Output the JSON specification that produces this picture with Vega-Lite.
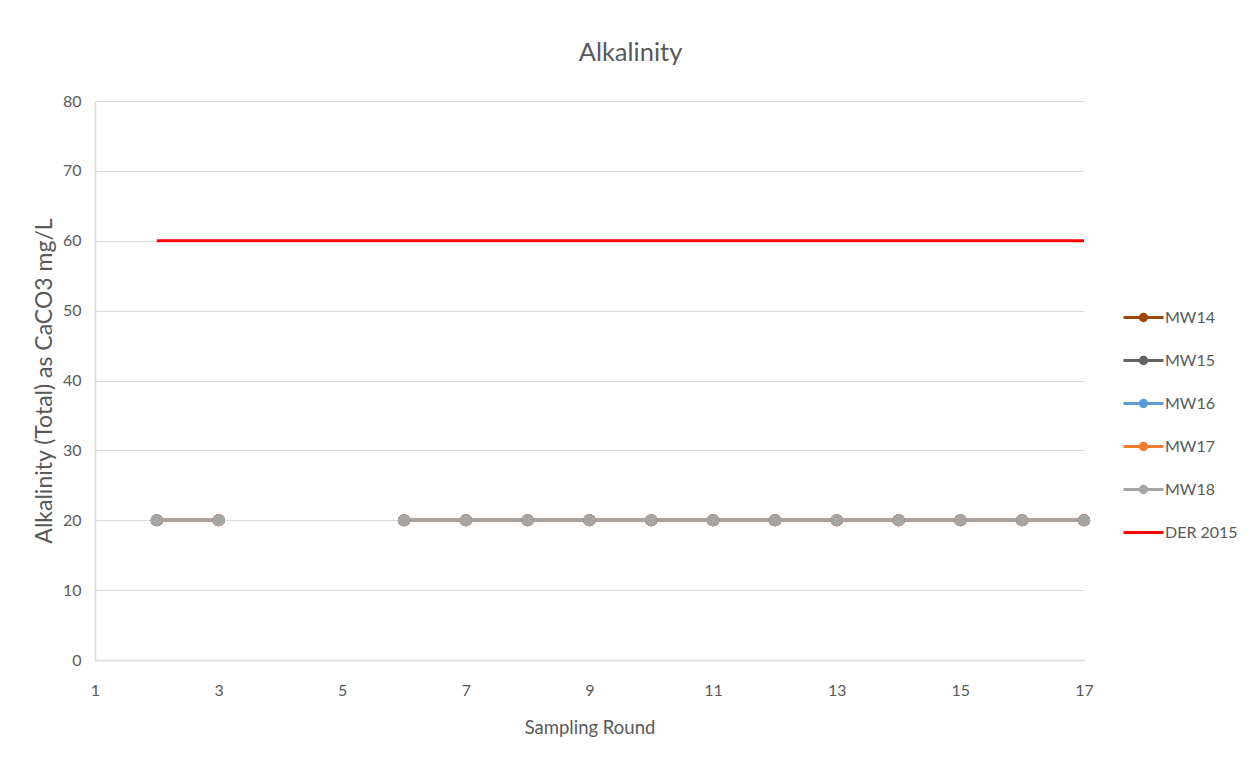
{
  "$schema": "https://vega.github.io/schema/vega-lite/v6.json",
  "width": 989,
  "height": 559,
  "autosize": {"type": "none"},
  "padding": {"left": 95, "top": 101, "right": 171, "bottom": 109},
  "background": "white",
  "title": {"text": "Alkalinity", "font": "Lato", "fontSize": 25.5, "fontWeight": "normal", "color": "#595959", "offset": 27, "dx": 41},
  "config": {
    "view": {"stroke": null},
    "font": "Lato"
  },
  "data": {
    "values": [
      {"round": 2, "series": "DER 2015", "value": 60},
      {"round": 3, "series": "DER 2015", "value": 60},
      {"round": 4, "series": "DER 2015", "value": 60},
      {"round": 5, "series": "DER 2015", "value": 60},
      {"round": 6, "series": "DER 2015", "value": 60},
      {"round": 7, "series": "DER 2015", "value": 60},
      {"round": 8, "series": "DER 2015", "value": 60},
      {"round": 9, "series": "DER 2015", "value": 60},
      {"round": 10, "series": "DER 2015", "value": 60},
      {"round": 11, "series": "DER 2015", "value": 60},
      {"round": 12, "series": "DER 2015", "value": 60},
      {"round": 13, "series": "DER 2015", "value": 60},
      {"round": 14, "series": "DER 2015", "value": 60},
      {"round": 15, "series": "DER 2015", "value": 60},
      {"round": 16, "series": "DER 2015", "value": 60},
      {"round": 17, "series": "DER 2015", "value": 60},
      {"round": 2, "series": "MW14", "value": 20},
      {"round": 3, "series": "MW14", "value": 20},
      {"round": 4, "series": "MW14", "value": null},
      {"round": 5, "series": "MW14", "value": null},
      {"round": 6, "series": "MW14", "value": 20},
      {"round": 7, "series": "MW14", "value": 20},
      {"round": 8, "series": "MW14", "value": 20},
      {"round": 9, "series": "MW14", "value": 20},
      {"round": 10, "series": "MW14", "value": 20},
      {"round": 11, "series": "MW14", "value": 20},
      {"round": 12, "series": "MW14", "value": 20},
      {"round": 13, "series": "MW14", "value": 20},
      {"round": 14, "series": "MW14", "value": 20},
      {"round": 15, "series": "MW14", "value": 20},
      {"round": 16, "series": "MW14", "value": 20},
      {"round": 17, "series": "MW14", "value": 20},
      {"round": 2, "series": "MW15", "value": 20},
      {"round": 3, "series": "MW15", "value": 20},
      {"round": 4, "series": "MW15", "value": null},
      {"round": 5, "series": "MW15", "value": null},
      {"round": 6, "series": "MW15", "value": 20},
      {"round": 7, "series": "MW15", "value": 20},
      {"round": 8, "series": "MW15", "value": 20},
      {"round": 9, "series": "MW15", "value": 20},
      {"round": 10, "series": "MW15", "value": 20},
      {"round": 11, "series": "MW15", "value": 20},
      {"round": 12, "series": "MW15", "value": 20},
      {"round": 13, "series": "MW15", "value": 20},
      {"round": 14, "series": "MW15", "value": 20},
      {"round": 15, "series": "MW15", "value": 20},
      {"round": 16, "series": "MW15", "value": 20},
      {"round": 17, "series": "MW15", "value": 20},
      {"round": 2, "series": "MW16", "value": 20},
      {"round": 3, "series": "MW16", "value": 20},
      {"round": 4, "series": "MW16", "value": null},
      {"round": 5, "series": "MW16", "value": null},
      {"round": 6, "series": "MW16", "value": 20},
      {"round": 7, "series": "MW16", "value": 20},
      {"round": 8, "series": "MW16", "value": 20},
      {"round": 9, "series": "MW16", "value": 20},
      {"round": 10, "series": "MW16", "value": 20},
      {"round": 11, "series": "MW16", "value": 20},
      {"round": 12, "series": "MW16", "value": 20},
      {"round": 13, "series": "MW16", "value": 20},
      {"round": 14, "series": "MW16", "value": 20},
      {"round": 15, "series": "MW16", "value": 20},
      {"round": 16, "series": "MW16", "value": 20},
      {"round": 17, "series": "MW16", "value": 20},
      {"round": 2, "series": "MW17", "value": 20},
      {"round": 3, "series": "MW17", "value": 20},
      {"round": 4, "series": "MW17", "value": null},
      {"round": 5, "series": "MW17", "value": null},
      {"round": 6, "series": "MW17", "value": 20},
      {"round": 7, "series": "MW17", "value": 20},
      {"round": 8, "series": "MW17", "value": 20},
      {"round": 9, "series": "MW17", "value": 20},
      {"round": 10, "series": "MW17", "value": 20},
      {"round": 11, "series": "MW17", "value": 20},
      {"round": 12, "series": "MW17", "value": 20},
      {"round": 13, "series": "MW17", "value": 20},
      {"round": 14, "series": "MW17", "value": 20},
      {"round": 15, "series": "MW17", "value": 20},
      {"round": 16, "series": "MW17", "value": 20},
      {"round": 17, "series": "MW17", "value": 20},
      {"round": 2, "series": "MW18", "value": 20},
      {"round": 3, "series": "MW18", "value": 20},
      {"round": 4, "series": "MW18", "value": null},
      {"round": 5, "series": "MW18", "value": null},
      {"round": 6, "series": "MW18", "value": 20},
      {"round": 7, "series": "MW18", "value": 20},
      {"round": 8, "series": "MW18", "value": 20},
      {"round": 9, "series": "MW18", "value": 20},
      {"round": 10, "series": "MW18", "value": 20},
      {"round": 11, "series": "MW18", "value": 20},
      {"round": 12, "series": "MW18", "value": 20},
      {"round": 13, "series": "MW18", "value": 20},
      {"round": 14, "series": "MW18", "value": 20},
      {"round": 15, "series": "MW18", "value": 20},
      {"round": 16, "series": "MW18", "value": 20},
      {"round": 17, "series": "MW18", "value": 20}
    ]
  },
  "encoding": {
    "x": {
      "field": "round", "type": "quantitative",
      "scale": {"domain": [1, 17], "nice": false, "zero": false},
      "axis": {
        "title": "Sampling Round", "titleFont": "Lato", "titleFontSize": 18.5, "titleFontWeight": "normal", "titleColor": "#595959", "titlePadding": 20,
        "values": [1, 3, 5, 7, 9, 11, 13, 15, 17],
        "labelFont": "Lato", "labelFontSize": 16, "labelColor": "#595959", "labelPadding": 22, "labelFlush": false,
        "ticks": false, "grid": false, "domainColor": "#d9d9d9", "domainWidth": 1.5
      }
    },
    "y": {
      "field": "value", "type": "quantitative",
      "scale": {"domain": [0, 80], "nice": false},
      "axis": {
        "title": "Alkalinity (Total) as CaCO3 mg/L", "titleFont": "Lato", "titleFontSize": 23, "titleFontWeight": "normal", "titleColor": "#595959", "titlePadding": 6,
        "values": [0, 10, 20, 30, 40, 50, 60, 70, 80],
        "labelFont": "Lato", "labelFontSize": 16, "labelColor": "#595959", "labelPadding": 14,
        "ticks": false, "grid": true, "gridColor": "#d9d9d9", "gridWidth": 1, "domainColor": "#d9d9d9", "domainWidth": 1.5
      }
    },
    "color": {
      "field": "series", "type": "nominal",
      "scale": {
        "domain": ["MW14", "MW15", "MW16", "MW17", "MW18", "DER 2015"],
        "range": ["#9E480E", "#636363", "#5B9BD5", "#ED7D31", "#A5A5A5", "#FF0000"]
      },
      "legend": {
        "orient": "none", "legendX": 1027, "legendY": 195, "title": null,
        "labelFont": "Lato", "labelFontSize": 16, "labelColor": "#595959", "labelOffset": 0,
        "symbolSize": 1600, "rowPadding": 12,
        "encode": {
          "symbols": {
            "update": {
              "shape": {"signal": "datum.value === 'DER 2015' ? 'M-1,0H1' : 'M-1,0H1M0.16,0A0.16,0.16,0,1,1,-0.16,0A0.16,0.16,0,1,1,0.16,0Z'"},
              "fill": {"scale": "color", "field": "value"},
              "stroke": {"scale": "color", "field": "value"},
              "strokeWidth": {"value": 3},
              "opacity": {"value": 1},
              "fillOpacity": {"value": 1}
            }
          }
        }
      }
    }
  },
  "layer": [
    {
      "mark": {"type": "line", "strokeWidth": 3, "invalid": "break-paths-show-domains"}
    },
    {
      "transform": [{"filter": "datum.series !== 'DER 2015' && datum.value != null"}],
      "mark": {"type": "point", "shape": "circle", "filled": true, "size": 150, "opacity": 1}
    }
  ]
}
